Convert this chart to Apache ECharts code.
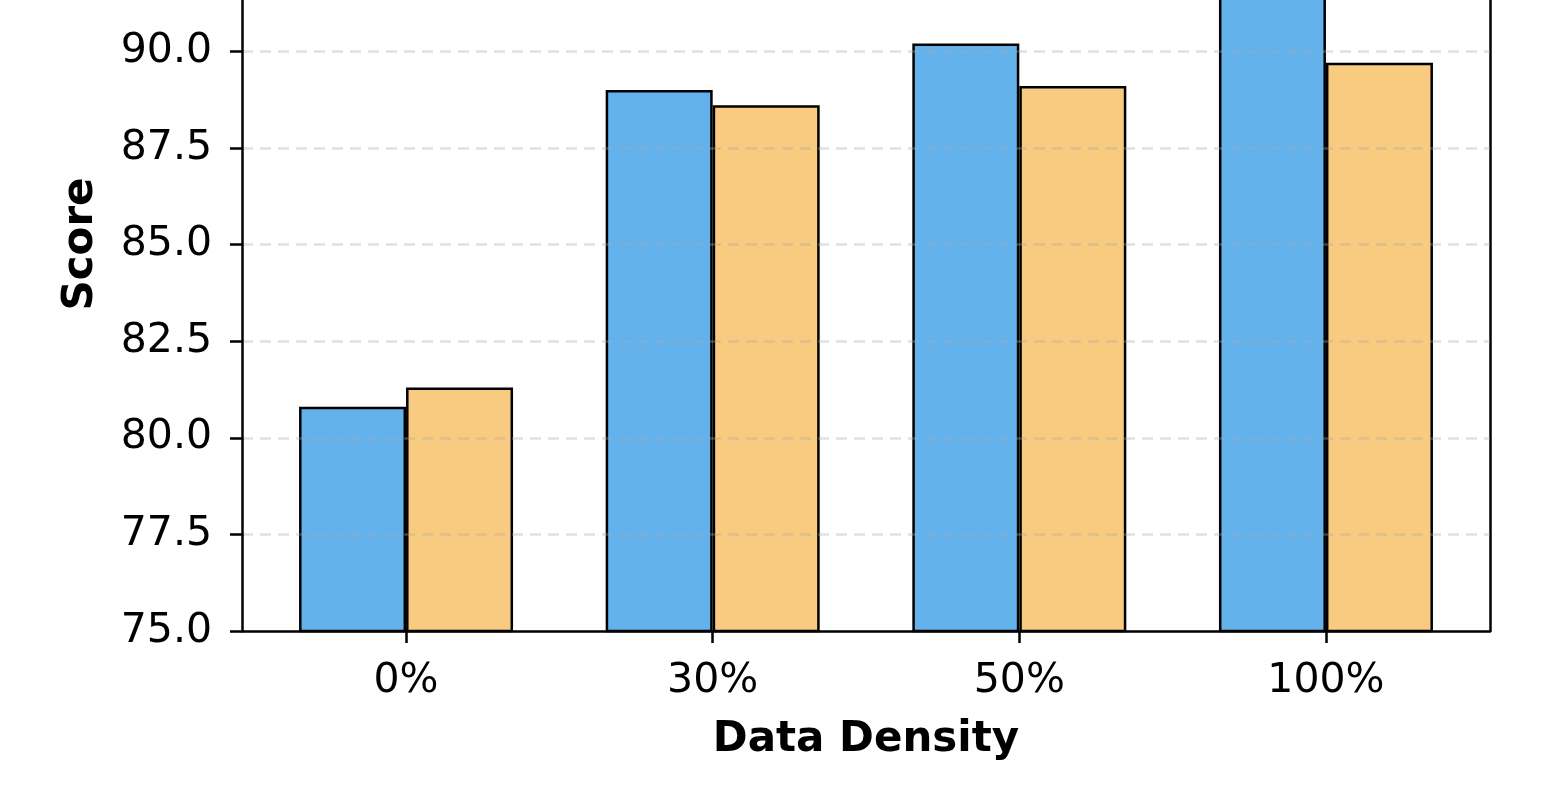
<!DOCTYPE html>
<html>
<head>
<meta charset="utf-8">
<script src="https://cdn.jsdelivr.net/npm/echarts@6/dist/echarts.min.js"></script>
<style>
  html, body { margin: 0; padding: 0; background: #fff; }
  #chart { width: 1568px; height: 808px; }
</style>
</head>
<body>
<div id="chart"></div>
<script>
// data
const categories = ['0%', '30%', '50%', '100%'];
const positions = [0, 1, 2, 3];
const seriesA = [80.8, 89.0, 90.2, 92.8];
const seriesB = [81.3, 88.6, 89.1, 89.7];
const yTicks = [75, 77.5, 80, 82.5, 85, 87.5, 90, 92.5, 95];

const FONT = 'DejaVu Sans';

const chart = echarts.init(document.getElementById('chart'));

const option = {
    animation: false,
    grid: {
        left: 242,
        right: 78,
        top: -142,
        bottom: 177,
        containLabel: false,
        outerBoundsMode: 'none',
    },
    xAxis: {
        type: 'value',
        min: -0.535,
        max: 3.535,
        z: 6,
        name: 'Data Density',
        nameLocation: 'middle',
        nameGap: 88,
        nameTextStyle: {
            fontFamily: FONT,
            fontSize: 42,
            fontWeight: 'bold',
            color: '#000',
        },
        axisLine: {
            onZero: false,
            lineStyle: { color: '#000', width: 2.5 }
        },
        axisTick: {
            show: true,
            length: 12,
            customValues: positions,
            lineStyle: { color: '#000', width: 2.5 }
        },
        axisLabel: {
            customValues: positions,
            margin: 30,
            fontFamily: FONT,
            fontSize: 41,
            color: '#000',
            formatter: function (v) {
                return categories[Math.round(v)];
            }
        },
        splitLine: { show: false },
    },
    yAxis: [
        {
            type: 'value',
            min: yTicks[0],
            max: yTicks[yTicks.length - 1],
            interval: 2.5,
            z: 5,
            axisLine: {
                show: true,
                onZero: false,
                lineStyle: { color: '#000', width: 2.5 }
            },
            axisTick: {
                show: true,
                length: 12,
                lineStyle: { color: '#000', width: 2.5 }
            },
            axisLabel: {
                margin: 30,
                fontFamily: FONT,
                fontSize: 41,
                color: '#000',
                formatter: function (v) {
                    return v.toFixed(1);
                }
            },
            splitLine: {
                show: true,
                showMinLine: false,
                lineStyle: {
                    color: 'rgba(170,170,170,0.35)',
                    width: 2.5,
                    type: [11, 7],
                }
            },
        },
        {
            type: 'value',
            position: 'right',
            min: yTicks[0],
            max: yTicks[yTicks.length - 1],
            interval: 2.5,
            axisLine: {
                show: true,
                onZero: false,
                lineStyle: { color: '#000', width: 2.5 }
            },
            axisTick: { show: false },
            axisLabel: { show: false },
            splitLine: { show: false },
        }
    ],
    graphic: [
        {
            type: 'text',
            rotation: Math.PI / 2,
            x: 81,
            y: 244,
            style: {
                text: 'Score',
                fontFamily: FONT,
                fontSize: 42,
                fontWeight: 'bold',
                fill: '#000',
                align: 'center',
                verticalAlign: 'middle',
            },
        }
    ],
    series: [
        {
            type: 'bar',
            barWidth: 107,
            barGap: '0%',
            data: positions.map((p, i) => [p, seriesA[i]]),
            itemStyle: {
                color: '#63B2EC',
                borderColor: '#000',
                borderWidth: 2.5,
            },
        },
        {
            type: 'bar',
            barWidth: 107,
            barGap: '0%',
            data: positions.map((p, i) => [p, seriesB[i]]),
            itemStyle: {
                color: '#F8CB80',
                borderColor: '#000',
                borderWidth: 2.5,
            },
        }
    ]
};

chart.setOption(option);
</script>
</body>
</html>
